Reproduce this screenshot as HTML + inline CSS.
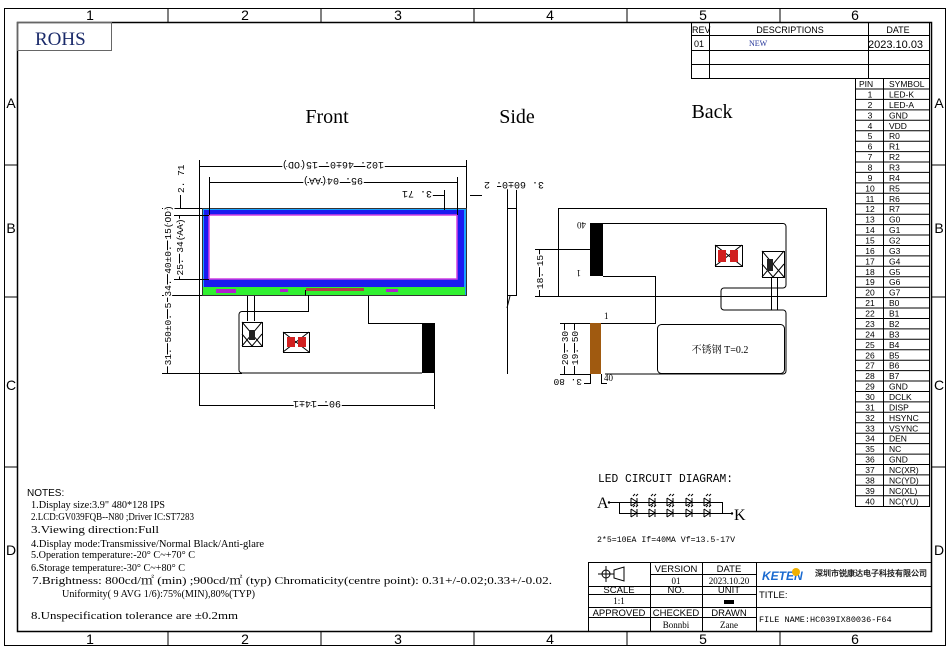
<!DOCTYPE html>
<html><head><meta charset="utf-8"><style>
html,body{margin:0;padding:0;background:#fff;}
svg{display:block;}
.s{font-family:"Liberation Sans",sans-serif;}
.r{font-family:"Liberation Serif","Noto Serif CJK SC",serif;}
.m{font-family:"Liberation Mono","Noto Sans CJK SC",monospace;}
.dm text{stroke:#fff;stroke-width:3px;paint-order:stroke;}
</style></head><body>
<svg width="951" height="654" viewBox="0 0 951 654" xmlns="http://www.w3.org/2000/svg">
<g fill="none" stroke="#000" stroke-width="1">
<rect x="4.5" y="8.5" width="941" height="637"/>
<rect x="17.5" y="22.5" width="914" height="609" stroke-width="1.5"/>
<path d="M168 8v14M321 8v14M474 8v14M627 8v14M780 8v14M168 632v14M321 632v14M474 632v14M627 632v14M780 632v14"/>
<path d="M4 165h13M4 297h13M4 467h13M932 165h14M932 297h14M932 467h14"/>
<rect x="17.5" y="22.5" width="94" height="28" stroke="#666"/>
</g>
<g class="s" font-size="14" text-anchor="middle">
<text x="90" y="20">1</text><text x="245" y="20">2</text><text x="398" y="20">3</text><text x="550" y="20">4</text><text x="703" y="20">5</text><text x="855" y="20">6</text>
<text x="90" y="644">1</text><text x="245" y="644">2</text><text x="398" y="644">3</text><text x="550" y="644">4</text><text x="703" y="644">5</text><text x="855" y="644">6</text>
<text x="11" y="108">A</text><text x="11" y="233">B</text><text x="11" y="390">C</text><text x="11" y="555">D</text>
<text x="939" y="108">A</text><text x="939" y="233">B</text><text x="939" y="390">C</text><text x="939" y="555">D</text>
</g>
<text x="35" y="45" class="r" font-size="19" fill="#1a2a6a">ROHS</text>

<g fill="none" stroke="#000" stroke-width="1">
<rect x="691.5" y="22.5" width="238" height="56"/>
<path d="M691 35.5h238M691 50.5h238M691 64.5h238M709.5 22v56M868.5 22v56"/>
</g>
<g class="s" font-size="9">
<text x="692" y="33">REV</text><text x="790" y="33" text-anchor="middle">DESCRIPTIONS</text><text x="898" y="33" text-anchor="middle">DATE</text>
<text x="694" y="47">01</text><text x="868" y="48" font-size="11">2023.10.03</text>
</g>
<text x="749" y="46" class="r" font-size="8" fill="#223399">NEW</text>

<g fill="none" stroke="#000" stroke-width="1">
<rect x="855.5" y="78.5" width="74" height="428"/>
<path d="M883.5 78v428"/>
<path d="M855 89h74M855 99.4h74M855 109.9h74M855 120.3h74M855 130.7h74M855 141.2h74M855 151.6h74M855 162h74M855 172.4h74M855 182.9h74M855 193.3h74M855 203.7h74M855 214.2h74M855 224.6h74M855 235h74M855 245.5h74M855 255.9h74M855 266.3h74M855 276.7h74M855 287.2h74M855 297.6h74M855 308h74M855 318.5h74M855 328.9h74M855 339.3h74M855 349.8h74M855 360.2h74M855 370.6h74M855 381h74M855 391.5h74M855 401.9h74M855 412.3h74M855 422.8h74M855 433.2h74M855 443.6h74M855 454.1h74M855 464.5h74M855 474.9h74M855 485.3h74M855 495.8h74"/>
</g>
<g class="s" font-size="8.5">
<text x="859" y="87">PIN</text><text x="889" y="87">SYMBOL</text>
<g text-anchor="middle">
<text x="870" y="97.5">1</text><text x="870" y="108">2</text><text x="870" y="118.4">3</text><text x="870" y="128.8">4</text><text x="870" y="139.2">5</text><text x="870" y="149.7">6</text><text x="870" y="160.1">7</text><text x="870" y="170.5">8</text><text x="870" y="180.9">9</text><text x="870" y="191.4">10</text><text x="870" y="201.8">11</text><text x="870" y="212.2">12</text><text x="870" y="222.7">13</text><text x="870" y="233.1">14</text><text x="870" y="243.5">15</text><text x="870" y="254">16</text><text x="870" y="264.4">17</text><text x="870" y="274.8">18</text><text x="870" y="285.2">19</text><text x="870" y="295.7">20</text><text x="870" y="306.1">21</text><text x="870" y="316.5">22</text><text x="870" y="327">23</text><text x="870" y="337.4">24</text><text x="870" y="347.8">25</text><text x="870" y="358.3">26</text><text x="870" y="368.7">27</text><text x="870" y="379.1">28</text><text x="870" y="389.5">29</text><text x="870" y="400">30</text><text x="870" y="410.4">31</text><text x="870" y="420.8">32</text><text x="870" y="431.3">33</text><text x="870" y="441.7">34</text><text x="870" y="452.1">35</text><text x="870" y="462.6">36</text><text x="870" y="473">37</text><text x="870" y="483.4">38</text><text x="870" y="493.8">39</text><text x="870" y="504.3">40</text>
</g>
<g>
<text x="889" y="97.5">LED-K</text><text x="889" y="108">LED-A</text><text x="889" y="118.4">GND</text><text x="889" y="128.8">VDD</text><text x="889" y="139.2">R0</text><text x="889" y="149.7">R1</text><text x="889" y="160.1">R2</text><text x="889" y="170.5">R3</text><text x="889" y="180.9">R4</text><text x="889" y="191.4">R5</text><text x="889" y="201.8">R6</text><text x="889" y="212.2">R7</text><text x="889" y="222.7">G0</text><text x="889" y="233.1">G1</text><text x="889" y="243.5">G2</text><text x="889" y="254">G3</text><text x="889" y="264.4">G4</text><text x="889" y="274.8">G5</text><text x="889" y="285.2">G6</text><text x="889" y="295.7">G7</text><text x="889" y="306.1">B0</text><text x="889" y="316.5">B1</text><text x="889" y="327">B2</text><text x="889" y="337.4">B3</text><text x="889" y="347.8">B4</text><text x="889" y="358.3">B5</text><text x="889" y="368.7">B6</text><text x="889" y="379.1">B7</text><text x="889" y="389.5">GND</text><text x="889" y="400">DCLK</text><text x="889" y="410.4">DISP</text><text x="889" y="420.8">HSYNC</text><text x="889" y="431.3">VSYNC</text><text x="889" y="441.7">DEN</text><text x="889" y="452.1">NC</text><text x="889" y="462.6">GND</text><text x="889" y="473">NC(XR)</text><text x="889" y="483.4">NC(YD)</text><text x="889" y="493.8">NC(XL)</text><text x="889" y="504.3">NC(YU)</text>
</g></g>

<g class="r" font-size="20" text-anchor="middle">
<text x="327" y="123">Front</text><text x="517" y="123">Side</text><text x="712" y="118">Back</text>
</g>

<!-- FRONT -->
<rect x="202" y="208" width="264" height="88" fill="#1aa0ff"/>
<rect x="204" y="210" width="260" height="77" fill="#1a1af0"/>
<rect x="209" y="215" width="248" height="64" fill="#fff" stroke="#d040e0" stroke-width="1.5"/>
<rect x="203" y="287" width="262" height="8" fill="#30f030"/>
<rect x="216" y="289" width="20" height="4" fill="#b020d0"/>
<rect x="280" y="289" width="8" height="3" fill="#b020d0"/>
<rect x="386" y="289" width="12" height="3" fill="#b020d0"/>
<rect x="306" y="288" width="58" height="3" fill="#b04040"/>
<rect x="202.5" y="208.5" width="264" height="87" fill="none" stroke="#333"/>
<g fill="none" stroke="#000">
<path d="M247.5 296v25M254.5 296v25"/>
<path d="M305.5 290v5.5 M308.5 295v16.5H242a3 3 0 0 0-3 3V370a3 3 0 0 0 3 3H422M368.5 296v27.5H422"/>
<rect x="242.5" y="322.5" width="20" height="24"/>
<rect x="283.5" y="332.5" width="26" height="20"/>
<path d="M242 322l20 24M262 322l-20 24M242 334l10 12M262 334l-10 12M283 332l26 20M309 332l-26 20"/>
</g>
<rect x="249" y="330" width="6" height="10" fill="#222"/>
<rect x="287" y="337" width="8" height="10" fill="#d02020"/><rect x="298" y="337" width="8" height="10" fill="#d02020"/>
<rect x="422" y="323" width="13" height="50" fill="#000"/>
<g fill="none" stroke="#000" stroke-width="1">
<path d="M199.5 160v245M466.5 160v48M209.5 177v38M457.5 177v38M434.5 373v36M444.5 190v20"/>
<path d="M199 166.5h267M209 182.5h248M430 195.5h14M470 195.5h12"/>
<path d="M199 405.5h235"/>
<path d="M162 208.5h40M162 295.5h40M174 215.5h35M174 279.5h35M162 373.5h80"/>
<path d="M167.5 208v165M179.5 215v64M180.5 195v13"/>
</g>
<g class="m dm" font-size="10" fill="#000">
<text transform="translate(333 166) rotate(180)" text-anchor="middle" dy="4">102. 46±0. 15(OD)</text>
<text transform="translate(333 182) rotate(180)" text-anchor="middle" dy="4">95. 04(AA)</text>
<text transform="translate(432 195) rotate(180)" text-anchor="start" dy="4">3. 71</text>
<text transform="translate(317 405) rotate(180)" text-anchor="middle" dy="4">90. 14±1</text>
<text transform="translate(167 251) rotate(-90)" text-anchor="middle" dy="4" font-size="9.5">34. 40±0. 15(OD)</text>
<text transform="translate(179 247) rotate(-90)" text-anchor="middle" dy="4" font-size="9.5">25. 34(AA)</text>
<text transform="translate(167 334) rotate(-90)" text-anchor="middle" dy="4" font-size="9.5">31. 50±0. 5</text>
<text transform="translate(180 193) rotate(-90)" text-anchor="start" dy="4" font-size="9.5">2. 71</text>
</g>

<!-- SIDE -->
<g fill="none" stroke="#000">
<path d="M507.5 186v188M497 186.5h10M516.5 186v22M516 186.5h6"/>
<rect x="507.5" y="208.5" width="9" height="87" fill="#fff"/>
<path d="M510 296l-3 12"/>
</g>
<g class="dm"><text transform="translate(544 186) rotate(180)" class="m" font-size="10" dy="4">3. 60±0. 2</text></g>

<!-- BACK -->
<g fill="none" stroke="#000">
<rect x="558.5" y="208.5" width="268" height="88"/>
<path d="M603 223.5h180a3 3 0 0 1 3 3V285a3 3 0 0 1-3 3H724a3 3 0 0 0-3 3v16a3 3 0 0 0 3 3h59a3 3 0 0 1 3 3V371a3 3 0 0 1-3 3H605"/>
<path d="M603 276.5h52.5V323.5H590"/>
<rect x="657.5" y="324.5" width="127" height="49" rx="4"/>
<path d="M771.5 277v33M777.5 277v33"/>
<rect x="715.5" y="245.5" width="27" height="21"/>
<rect x="762.5" y="251.5" width="22" height="26"/>
<path d="M715 245l27 21M742 245l-27 21M762 251l22 26M784 251l-22 26M762 264l11 13M784 264l-11 13"/>
<path d="M539.5 249v47M535 249.5h55M535 296.5h24"/>
<path d="M564.5 323v51M574.5 323v51M560 323.5h30M560 374.5h30M590.5 374v10M601.5 374v10M584 383.5h6M601 383.5h6"/>
</g>
<rect x="718" y="250" width="8" height="12" fill="#d02020"/><rect x="730" y="250" width="8" height="12" fill="#d02020"/>
<rect x="767" y="259" width="6" height="12" fill="#222"/>
<rect x="590" y="223" width="13" height="53" fill="#000"/>
<rect x="590" y="323" width="11" height="51" fill="#a05a10"/>
<g class="r" font-size="9">
<text transform="translate(586 222) rotate(180)">40</text>
<text transform="translate(581 270) rotate(180)">1</text>
<text x="604" y="319">1</text>
<text x="604" y="381">40</text>
</g>
<text x="720" y="353" text-anchor="middle" class="r" font-size="10">不锈钢 T=0.2</text>
<g class="m dm" font-size="9.5">
<text transform="translate(539 272) rotate(-90)" text-anchor="middle" dy="4">18. 15</text>
<text transform="translate(564 348) rotate(-90)" text-anchor="middle" dy="4">20. 30</text>
<text transform="translate(574 348) rotate(-90)" text-anchor="middle" dy="4">19. 50</text>
<text transform="translate(582 383) rotate(180)" dy="4">3. 80</text>
</g>

<!-- LED circuit -->
<text x="598" y="482" class="m" font-size="12" textLength="135" lengthAdjust="spacingAndGlyphs">LED CIRCUIT DIAGRAM:</text>
<text x="597" y="508" class="r" font-size="16">A</text>
<text x="734" y="520" class="r" font-size="16">K</text>
<g fill="none" stroke="#000">
<path d="M609 502.5h113M619 513.5h113M619.5 502v11M722.5 502v11"/>
<g id="d"><path d="M631 498v8M631 498l6 4l-6 4M637 498v8M633 496l2-2M636 496l2-2"/></g>
<use href="#d" x="18"/><use href="#d" x="36"/><use href="#d" x="55"/><use href="#d" x="73"/>
<use href="#d" y="11"/><use href="#d" x="18" y="11"/><use href="#d" x="36" y="11"/><use href="#d" x="55" y="11"/><use href="#d" x="73" y="11"/>
</g>
<circle cx="609" cy="502.5" r="1.2"/><circle cx="732" cy="513.5" r="1.2"/>
<text x="597" y="542" class="m" font-size="8" textLength="138" lengthAdjust="spacingAndGlyphs">2*5=10EA  If=40MA  Vf=13.5-17V</text>

<!-- notes -->
<text x="27" y="496" class="s" font-size="10">NOTES:</text>
<g class="r" font-size="11">
<text x="31" y="508" textLength="134" lengthAdjust="spacingAndGlyphs">1.Display size:3.9" 480*128 IPS</text>
<text x="31" y="520" textLength="163" lengthAdjust="spacingAndGlyphs">2.LCD:GV039FQB--N80 ;Driver IC:ST7283</text>
<text x="31" y="533" textLength="128" lengthAdjust="spacingAndGlyphs">3.Viewing direction:Full</text>
<text x="31" y="547" textLength="233" lengthAdjust="spacingAndGlyphs">4.Display mode:Transmissive/Normal Black/Anti-glare</text>
<text x="31" y="558" textLength="164" lengthAdjust="spacingAndGlyphs">5.Operation temperature:-20° C~+70° C</text>
<text x="31" y="571" textLength="154" lengthAdjust="spacingAndGlyphs">6.Storage temperature:-30° C~+80° C</text>
<text x="32" y="584" textLength="520" lengthAdjust="spacingAndGlyphs">7.Brightness: 800cd/㎡ (min) ;900cd/㎡ (typ) Chromaticity(centre point): 0.31+/-0.02;0.33+/-0.02.</text>
<text x="62" y="597" textLength="193" lengthAdjust="spacingAndGlyphs">Uniformity( 9 AVG 1/6):75%(MIN),80%(TYP)</text>
<text x="31" y="619" textLength="207" lengthAdjust="spacingAndGlyphs">8.Unspecification tolerance are ±0.2mm</text>
</g>

<!-- title block -->
<g fill="none" stroke="#000">
<rect x="588.5" y="562.5" width="343" height="69"/>
<path d="M650.5 562v70M702.5 562v70M756.5 562v70M650 574.5h106M588 586.5h343M588 594.5h168M588 607.5h343M588 617.5h168"/>
<circle cx="606" cy="574" r="4"/><path d="M598 574h16M606 566v16M614 570l10-3v14l-10-3z"/>
</g>
<g class="s" font-size="9.5" text-anchor="middle">
<text x="676" y="572">VERSION</text><text x="729" y="572">DATE</text>
<text x="619" y="593">SCALE</text><text x="676" y="593">NO.</text><text x="729" y="593">UNIT</text>
<text x="619" y="616">APPROVED</text><text x="676" y="616">CHECKED</text><text x="729" y="616">DRAWN</text>
</g>
<g class="r" font-size="9" text-anchor="middle">
<text x="676" y="584">01</text><text x="729" y="584">2023.10.20</text>
<text x="619" y="604">1:1</text>
<text x="676" y="628">Bonnbi</text><text x="729" y="628">Zane</text>
</g>
<rect x="724" y="600" width="10" height="4" fill="#000"/>
<text x="759" y="598" class="s" font-size="9.5">TITLE:</text>
<text x="759" y="622" class="m" font-size="8.5">FILE NAME:HC039IX80036-F64</text>
<text x="762" y="580" class="s" font-size="12" font-style="italic" font-weight="bold" fill="#1a6ad0">KETEN</text>
<circle cx="796" cy="572" r="4" fill="#f0b000"/>
<text x="815" y="576" class="s" font-size="8" font-weight="bold" fill="#222" textLength="112" lengthAdjust="spacingAndGlyphs">深圳市锐康达电子科技有限公司</text>
</svg>
</body></html>
